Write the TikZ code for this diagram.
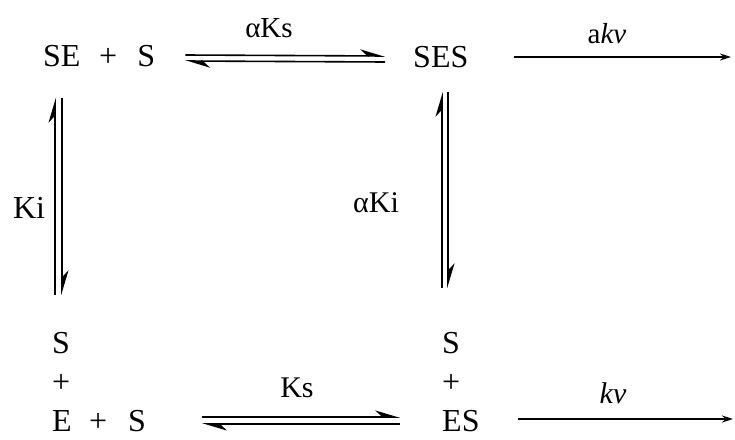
\documentclass[tikz,border=0pt]{standalone}
\usepackage{fontspec}
\setmainfont{Liberation Serif}
\usetikzlibrary{arrows.meta}
\begin{document}
\begin{tikzpicture}[x=1pt,y=-1pt,
  species/.style={anchor=base west,inner sep=0pt,font=\fontsize{32}{38}\selectfont},
  rate/.style={anchor=base,inner sep=0pt,font=\fontsize{30}{36}\selectfont},
  harp/.style={line width=1.6pt,-{Stealth[harpoon,length=22pt,width=13pt,inset=7pt]}},
  single/.style={line width=1.6pt,-{Stealth[length=11pt,width=7pt]}}]
\useasboundingbox (0,0) rectangle (735,439);
% species
\node[species] (SEpS) at (43,66) {SE\hspace{18.7pt}+\hspace{20pt}S};
\node[species] (SES) at (413,67) {SES};
\node[species] (BLS) at (52,353) {S};
\node[species] (BLp) at (52,392) {+};
\node[species] (BLE) at (52,431) {E\hspace{17.4pt}+\hspace{21pt}S};
\node[species] (BRS) at (442,353) {S};
\node[species] (BRp) at (442,392) {+};
\node[species] (BRE) at (442,431) {ES};
% rate labels
\node[rate,font=\fontsize{29}{34}\selectfont] (aKs) at (269,37) {αKs};
\node[rate,font=\fontsize{29}{34}\selectfont] (akv) at (607,43) {a\textit{kv}};
\node[rate,font=\fontsize{32}{38}\selectfont] (Ki) at (29,218) {Ki};
\node[rate] (aKi) at (376,212) {αKi};
\node[rate] (Ks) at (297,397) {Ks};
\node[rate] (kv) at (613,403) {\textit{kv}};
% free ends
\coordinate (akvEnd) at (731,57);
\coordinate (kvEnd) at (733,419);
% top equilibrium
\draw[harp] ([xshift=30pt,yshift=11pt]SEpS.base east) -- ([xshift=-28pt,yshift=11pt]SES.base west);
\draw[harp] ([xshift=-28pt,yshift=5pt]SES.base west) -- ([xshift=30pt,yshift=5pt]SEpS.base east);
% bottom equilibrium
\draw[harp] ([xshift=56pt,yshift=14pt]BLE.base east) -- ([xshift=-42pt,yshift=14pt]BRE.base west);
\draw[harp] ([xshift=-42pt,yshift=7pt]BRE.base west) -- ([xshift=56pt,yshift=7pt]BLE.base east);
% left vertical equilibrium
\draw[harp] ([xshift=3pt,yshift=58pt]BLS.base west) -- ([xshift=12pt,yshift=-32pt]SEpS.base west);
\draw[harp] ([xshift=19pt,yshift=-32pt]SEpS.base west) -- ([xshift=10pt,yshift=58pt]BLS.base west);
% right vertical equilibrium
\draw[harp] ([xshift=0pt,yshift=65pt]BRS.base west) -- ([xshift=29pt,yshift=-25pt]SES.base west);
\draw[harp] ([xshift=35pt,yshift=-25pt]SES.base west) -- ([xshift=6pt,yshift=65pt]BRS.base west);
% irreversible steps
\draw[single] ([xshift=45pt,yshift=10pt]SES.base east) -- (akvEnd);
\draw[single] ([xshift=38.7pt,yshift=12pt]BRE.base east) -- (kvEnd);
\end{tikzpicture}
\end{document}
